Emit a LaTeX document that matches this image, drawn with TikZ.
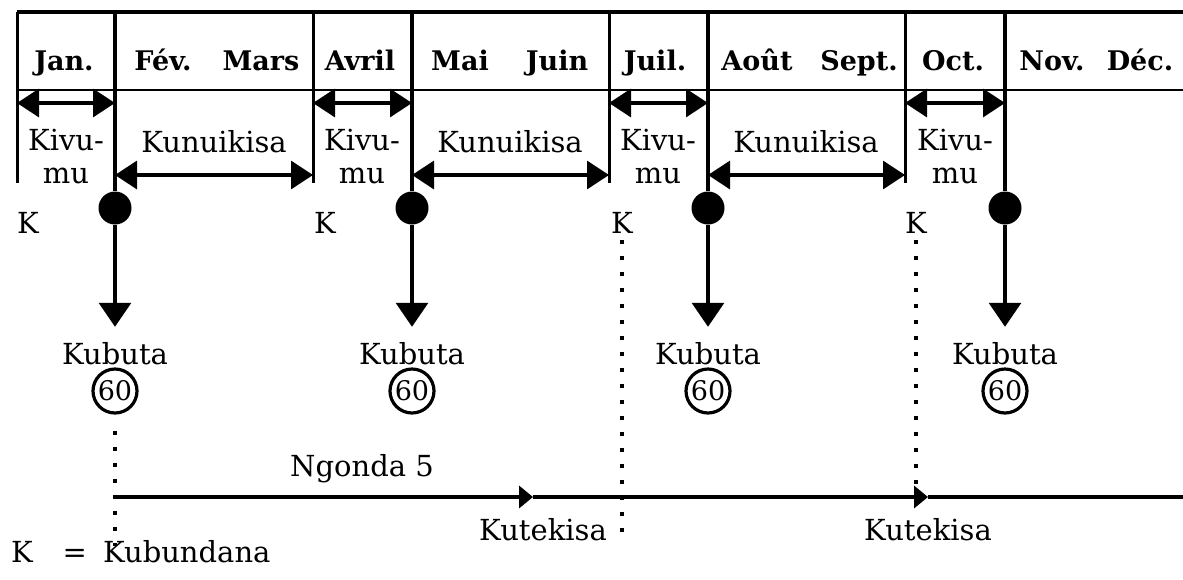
\documentclass[tikz,border=0pt]{standalone}
\usepackage{fontspec}
\setmainfont{DejaVu Serif}
\usetikzlibrary{positioning,arrows.meta}

\begin{document}
\begin{tikzpicture}[x=0.5pt, y=-0.5pt, every node/.style={font=\fontsize{14.5}{16.5}\selectfont}]
    \tikzset{month/.style={anchor=base, font=\fontsize{13.5}{16}\selectfont\bfseries}}
    \tikzset{word/.style={anchor=base}}
    \tikzset{kivu/.style={align=center}}
    \tikzset{kub/.style={inner sep=2pt, outer sep=6pt}}
    \tikzset{blob/.style={circle, fill=black, inner sep=0pt, minimum size=16.5pt}}
    \tikzset{sixty/.style={circle, draw, line width=1.6pt, inner sep=0pt, minimum size=22pt, font=\fontsize{13.5}{14}\selectfont}}
    \tikzset{span/.style={draw, line width=1.6pt, {Triangle[length=11pt,width=14pt]}-{Triangle[length=11pt,width=14pt]}}}
    \tikzset{drop/.style={draw, line width=1.6pt, -{Triangle[length=12pt,width=16pt]}}}
    \tikzset{timeline/.style={draw, line width=2.2pt, -{Triangle[length=7pt,width=11pt]}}}
    \tikzset{dotline/.style={draw, line width=2pt, dash pattern=on 2pt off 6pt}}

    \useasboundingbox (0,0) rectangle (1183,579);

    \coordinate (g0) at (17,12);
    \coordinate (g1) at (115,12);
    \coordinate (g2) at (313,12);
    \coordinate (g3) at (412,12);
    \coordinate (g4) at (609,12);
    \coordinate (g5) at (708,12);
    \coordinate (g6) at (905,12);
    \coordinate (g7) at (1005,12);
    \coordinate (gr) at (1183,12);
    \coordinate (hd) at (0,90);
    \coordinate (kv) at (0,103);
    \coordinate (kn) at (0,175);
    \coordinate (low) at (0,183);

    \draw[line width=2.4pt] (g0) -- (gr);
    \draw[line width=1.3pt] (g0 |- hd) -- (gr |- hd);
    \draw[line width=1.5pt] (g0) -- (g0 |- low);
    \draw[line width=1.5pt] (g2) -- (g2 |- low);
    \draw[line width=1.5pt] (g4) -- (g4 |- low);
    \draw[line width=1.5pt] (g6) -- (g6 |- low);

    \node[month] (jan) at (64,70) {Jan.};
    \node[month] (fev) at (163,70) {Fév.};
    \node[month] (mar) at (261,70) {Mars};
    \node[month] (avr) at (360,70) {Avril};
    \node[month] (mai) at (460,70) {Mai};
    \node[month] (jun) at (557,70) {Juin};
    \node[month] (jul) at (655,70) {Juil.};
    \node[month] (aou) at (757,70) {Août};
    \node[month] (sep) at (859,70) {Sept.};
    \node[month] (oct) at (953,70) {Oct.};
    \node[month] (nov) at (1052,70) {Nov.};
    \node[month] (dec) at (1140,70) {Déc.};

    \node[kivu] (kiv1) at (66,157) {Kivu-\\mu};
    \node[kivu] (kiv2) at (362,157) {Kivu-\\mu};
    \node[kivu] (kiv3) at (658,157) {Kivu-\\mu};
    \node[kivu] (kiv4) at (955,157) {Kivu-\\mu};
    \node[word] (kun1) at (214,152) {Kunuikisa};
    \node[word] (kun2) at (510,152) {Kunuikisa};
    \node[word] (kun3) at (806,152) {Kunuikisa};

    \draw[span] (g0 |- kv) -- (g1 |- kv);
    \draw[span] (g2 |- kv) -- (g3 |- kv);
    \draw[span] (g4 |- kv) -- (g5 |- kv);
    \draw[span] (g6 |- kv) -- (g7 |- kv);
    \draw[span] (g1 |- kn) -- (g2 |- kn);
    \draw[span] (g3 |- kn) -- (g4 |- kn);
    \draw[span] (g5 |- kn) -- (g6 |- kn);

    \node[word] (k1) at (28,233) {K};
    \node[word] (k2) at (325,233) {K};
    \node[word] (k3) at (622,233) {K};
    \node[word] (k4) at (916,233) {K};

    \node[blob] (b1) at (115,208) {};
    \node[blob] (b2) at (412,208) {};
    \node[blob] (b3) at (708,208) {};
    \node[blob] (b4) at (1005,208) {};
    \draw[line width=2pt] (g1) -- (b1);
    \draw[line width=2pt] (g3) -- (b2);
    \draw[line width=2pt] (g5) -- (b3);
    \draw[line width=2pt] (g7) -- (b4);

    \node[kub] (kub1) at (115,354) {Kubuta};
    \node[kub] (kub2) at (412,354) {Kubuta};
    \node[kub] (kub3) at (708,354) {Kubuta};
    \node[kub] (kub4) at (1005,354) {Kubuta};
    \node[sixty] (s1) at (115,391) {60};
    \node[sixty] (s2) at (412,391) {60};
    \node[sixty] (s3) at (708,391) {60};
    \node[sixty] (s4) at (1005,391) {60};
    \draw[drop] (b1) -- (kub1);
    \draw[drop] (b2) -- (kub2);
    \draw[drop] (b3) -- (kub3);
    \draw[drop] (b4) -- (kub4);

    \coordinate (h0) at (115,497);
    \coordinate (m1) at (533,497);
    \coordinate (m2) at (928,497);
    \coordinate (h1) at (1183,497);
    \coordinate (e1) at (115,546);
    \coordinate (e3) at (622,535);
    \draw[timeline] (h0) -- (m1);
    \draw[timeline] (m1) -- (m2);
    \draw[line width=2.2pt] (m2) -- (h1);
    \draw[dotline, shorten <=8pt] (s1.south) -- (e1);
    \draw[dotline] (k3.south) -- (e3);
    \draw[dotline] (k4.south) -- (k4.south |- m2);

    \node[word] (ng) at (362,476) {Ngonda 5};
    \node[word] (kt1) at (543,540) {Kutekisa};
    \node[word] (kt2) at (928,540) {Kutekisa};
    \node[word, anchor=base west] (leg) at (4,562) {K\hspace{15pt}=\hspace{8pt}Kubundana};
\end{tikzpicture}
\end{document}
